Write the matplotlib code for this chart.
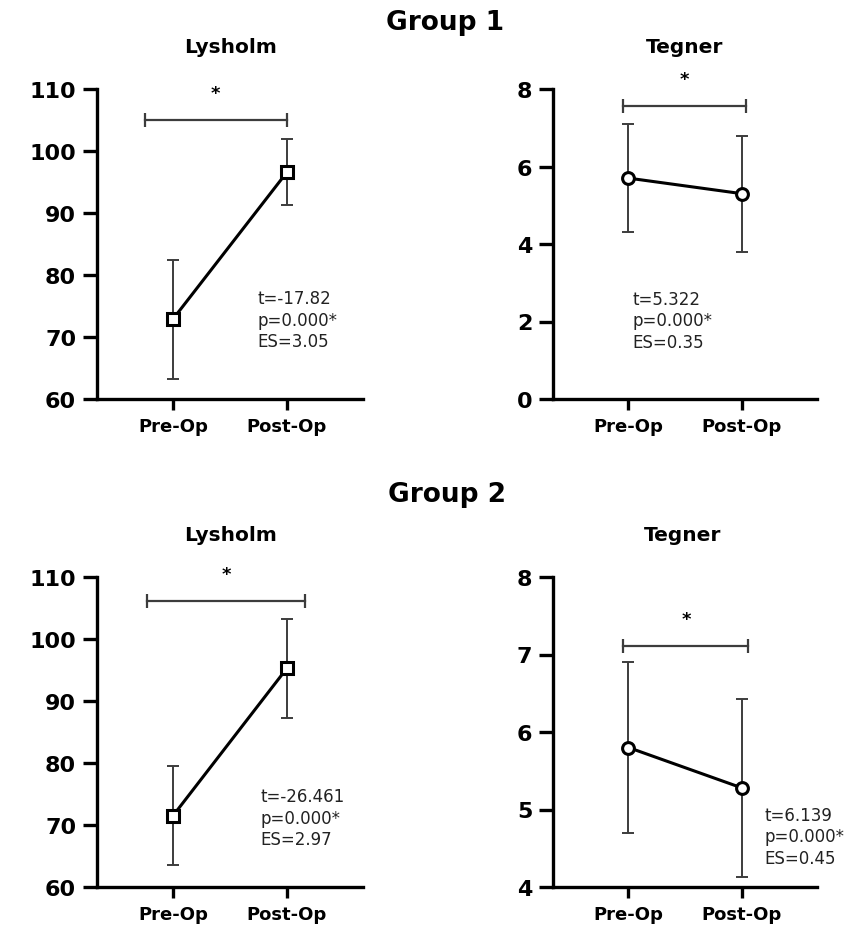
import matplotlib
matplotlib.use("Agg")
import matplotlib.pyplot as plt
import numpy as np

plt.rcParams['font.family'] = ['DejaVu Sans']

# ---------------- data ----------------
group_names = ["Group 1", "Group 2"]
measure_names = ["Lysholm", "Tegner"]
timepoints = ["Pre-Op", "Post-Op"]

g1_lysholm_mean = [72.9, 96.6]
g1_lysholm_sd = [9.6, 5.3]
g1_tegner_mean = [5.7, 5.3]
g1_tegner_sd = [1.4, 1.5]

g2_lysholm_mean = [71.5, 95.3]
g2_lysholm_sd = [7.95, 8.0]
g2_tegner_mean = [5.8, 5.28]
g2_tegner_sd = [1.1, 1.15]

stats_text = [
    "t=-17.82\np=0.000*\nES=3.05",
    "t=5.322\np=0.000*\nES=0.35",
    "t=-26.461\np=0.000*\nES=2.97",
    "t=6.139\np=0.000*\nES=0.45",
]

lysholm_ticks = [60, 70, 80, 90, 100, 110]
tegner1_ticks = [0, 2, 4, 6, 8]
tegner2_ticks = [4, 5, 6, 7, 8]

# ---------------- layout ----------------
W, H = 861, 928
fig = plt.figure(figsize=(W / 100, H / 100), dpi=100)
fig.patch.set_facecolor("white")


def ax_rect(x0, y0, x1, y1):
    return [x0 / W, 1 - y1 / H, (x1 - x0) / W, (y1 - y0) / H]


panels = [
    dict(rect=ax_rect(97, 90, 363, 400), mean=g1_lysholm_mean, sd=g1_lysholm_sd,
         marker="s", ms=8.5, ticks=lysholm_ticks, ylim=(60, 110),
         bracket=(-0.25, 1.0, 105.0), text=stats_text[0], tpos=(0.74, 77.7)),
    dict(rect=ax_rect(553, 90, 817, 400), mean=g1_tegner_mean, sd=g1_tegner_sd,
         marker="o", ms=8.5, ticks=tegner1_ticks, ylim=(0, 8),
         bracket=(-0.044, 1.035, 7.55), text=stats_text[1], tpos=(0.035, 2.82)),
    dict(rect=ax_rect(97, 578, 363, 888), mean=g2_lysholm_mean, sd=g2_lysholm_sd,
         marker="s", ms=8.5, ticks=lysholm_ticks, ylim=(60, 110),
         bracket=(-0.23, 1.16, 106.2), text=stats_text[2], tpos=(0.77, 76.1)),
    dict(rect=ax_rect(553, 578, 817, 888), mean=g2_tegner_mean, sd=g2_tegner_sd,
         marker="o", ms=8.5, ticks=tegner2_ticks, ylim=(4, 8),
         bracket=(-0.044, 1.06, 7.11), text=stats_text[3], tpos=(1.20, 5.05)),
]

err_color = "#3c3c3c"

for p in panels:
    ax = fig.add_axes(p["rect"])
    x = np.arange(len(timepoints))
    ax.errorbar(x, p["mean"], yerr=p["sd"], fmt="none", ecolor=err_color,
                elinewidth=1.4, capsize=4.5, capthick=1.4, zorder=2)
    ax.plot(x, p["mean"], color="black", lw=2.2, marker=p["marker"],
            markersize=p["ms"], markerfacecolor="white", markeredgecolor="black",
            markeredgewidth=2.2, zorder=3)
    ax.set_xlim(-0.667, 1.667)
    ax.set_ylim(*p["ylim"])
    ax.set_yticks(p["ticks"])
    ax.set_xticks(x)
    ax.set_xticklabels(timepoints, fontsize=13, fontweight="bold")
    ax.set_yticklabels([str(t) for t in p["ticks"]], fontsize=16, fontweight="heavy")
    for s in ["top", "right"]:
        ax.spines[s].set_visible(False)
    for s in ["left", "bottom"]:
        ax.spines[s].set_linewidth(2.4)
    ax.tick_params(axis="y", length=10, width=2.4, pad=5)
    ax.tick_params(axis="x", length=8, width=2.4, pad=5)
    ax.set_facecolor("none")

    bx0, bx1, by = p["bracket"]
    ax.plot([bx0, bx1], [by, by], color=err_color, lw=1.6, clip_on=False, zorder=2)
    ax.plot([bx0, bx1], [by, by], ls="none", marker="|", markersize=10,
            markeredgewidth=1.6, color=err_color, clip_on=False, zorder=2)
    ax.annotate("*", xy=((bx0 + bx1) / 2, by), xytext=(0, 13),
                textcoords="offset points", ha="center", va="bottom",
                fontsize=13, fontweight="bold", annotation_clip=False)

    ax.text(p["tpos"][0], p["tpos"][1], p["text"], ha="left", va="top",
            fontsize=12, linespacing=1.25, color="#222222")

# group and measure titles
fig.text(0.5174, 0.9677, group_names[0], ha="center", va="baseline",
         fontsize=19, fontweight="bold")
fig.text(0.5186, 0.4594, group_names[1], ha="center", va="baseline",
         fontsize=19, fontweight="bold")
fig.text(0.2677, 0.9425, measure_names[0], ha="center", va="baseline",
         fontsize=14.5, fontweight="bold")
fig.text(0.7956, 0.9425, measure_names[1], ha="center", va="baseline",
         fontsize=14.5, fontweight="bold")
fig.text(0.2677, 0.4174, measure_names[0], ha="center", va="baseline",
         fontsize=14.5, fontweight="bold")
fig.text(0.7927, 0.4174, measure_names[1], ha="center", va="baseline",
         fontsize=14.5, fontweight="bold")

fig.savefig("out.png", dpi=100, facecolor="white")
